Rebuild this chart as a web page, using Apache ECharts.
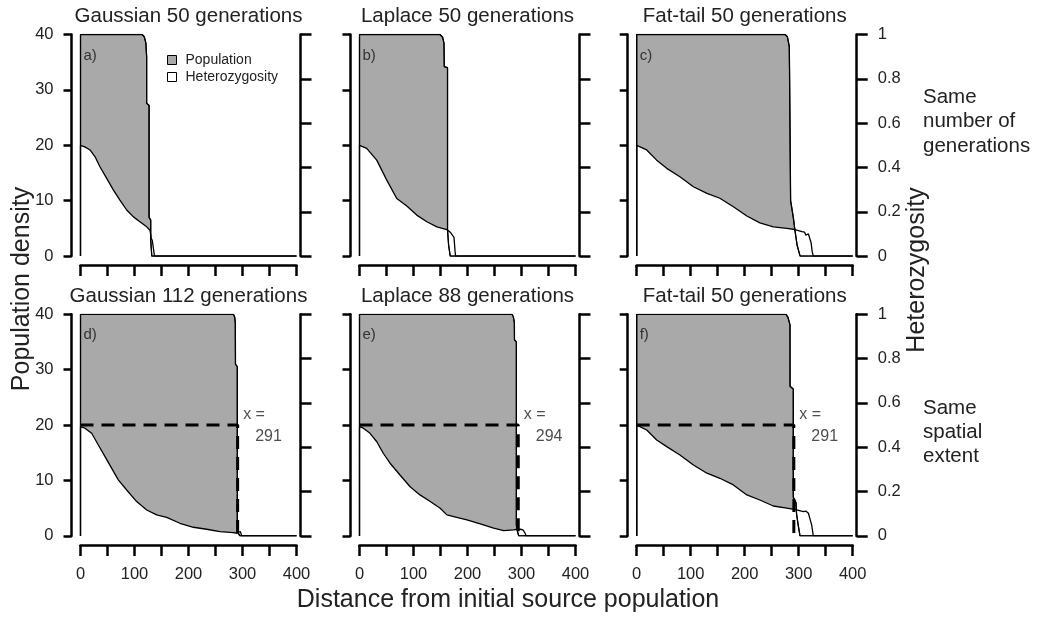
<!DOCTYPE html>
<html>
<head>
<meta charset="utf-8">
<script src="https://cdn.jsdelivr.net/npm/echarts@6/dist/echarts.min.js"></script>
<style>
  html, body { margin: 0; padding: 0; background: #fff; }
  #chart { width: 1037px; height: 618px; }
</style>
</head>
<body>
<div id="chart"></div>
<script>
// panel headings and tags
const panelTitles = [
  'Gaussian 50 generations', 'Laplace 50 generations', 'Fat-tail 50 generations',
  'Gaussian 112 generations', 'Laplace 88 generations', 'Fat-tail 50 generations'
];
const panelTags = ['a)', 'b)', 'c)', 'd)', 'e)', 'f)'];
// spatial extent reached (bottom row only)
const frontX = [null, null, null, 291, 294, 291];
const halfDensity = 20;

const xTicks = { min: 0, max: 400, step: 50 };
const popTicks = { min: 0, max: 40, step: 10 };
const hetTicks = { min: 0, max: 1, step: 0.2 };

// population density profiles [distance, density]
const popA = [[0,0],[0,40],[114,40],[118,39.6],[121,38.5],[122.5,36],[122.5,27.6],[127,27.2],[127,7],[130,6.5],[130,3],[132,0],[400,0]];
const popB = [[0,0],[0,40],[149,40],[154,39.5],[156.5,38.4],[157,34.2],[163,34],[163,4.7],[165,2],[168,0],[400,0]];
const popC = [[0,0],[0,40],[274.6,40],[279,39.6],[282.6,37.8],[283,34],[285,10],[290,7],[293,4.7],[297,2],[302.6,0],[400,0]];
const popD = [[0,0],[0,40],[283,40],[285.5,39.5],[286.7,38.5],[287,31],[290.4,30.5],[290.4,1],[292,0.5],[295.4,0],[400,0]];
const popE = [[0,0],[0,40],[282.5,40],[285,39.5],[286.8,38.5],[287,35.4],[290.5,35],[290.5,2],[292,1],[294.8,0],[400,0]];
const popF = [[0,0],[0,40],[276.5,40],[280,39.5],[283.9,38.1],[284,27],[290,26.5],[290,7],[295,6],[296,4],[299,2],[302.4,0],[400,0]];

// heterozygosity profiles [distance, heterozygosity]
const hetA = [[0,0],[0,0.5],[8,0.493],[17.6,0.479],[27,0.448],[36,0.403],[48.5,0.351],[61,0.298],[73,0.253],[85.5,0.208],[98,0.177],[110,0.155],[122.6,0.132],[128.7,0.117],[130,0.11],[131,0.08],[133,0.07],[136,0.07],[137,0],[400,0]];
const hetB = [[0,0],[0,0.5],[13.3,0.486],[31.9,0.433],[50.5,0.343],[69,0.26],[87.6,0.226],[106,0.185],[124.7,0.155],[143.3,0.132],[161.8,0.12],[168,0.108],[172,0.095],[175,0.085],[177,0.02],[178,0],[400,0]];
const hetC = [[0,0],[0,0.5],[18.5,0.479],[37,0.433],[55.6,0.396],[80,0.358],[105,0.313],[130,0.283],[154,0.261],[179,0.223],[204,0.181],[228,0.15],[253,0.132],[278,0.125],[293,0.12],[306,0.11],[311,0.108],[313,0.095],[318,0.1],[321,0.095],[323,0.06],[325,0.02],[327,0],[400,0]];
const hetD = [[0,0],[0,0.493],[8.3,0.486],[20.7,0.463],[33,0.41],[45.4,0.358],[57.8,0.305],[70,0.253],[85.5,0.207],[104,0.155],[122.6,0.117],[141,0.095],[159.6,0.084],[184,0.057],[209,0.039],[233.7,0.03],[258.3,0.019],[283,0.015],[290,0.012],[292,0.02],[296,0.02],[298.5,0],[400,0]];
const hetE = [[0,0],[0,0.493],[7,0.486],[19.5,0.463],[32,0.425],[44,0.373],[56.6,0.328],[75,0.275],[93.7,0.222],[112,0.185],[131,0.155],[149.4,0.125],[161.8,0.095],[180,0.084],[199,0.072],[223.6,0.054],[248.4,0.035],[267,0.024],[285.5,0.027],[292,0.03],[298,0.03],[302.7,0.027],[306,0.015],[308.7,0],[400,0]];
const hetF = [[0,0],[0,0.5],[18.5,0.478],[37,0.433],[55.6,0.403],[80,0.365],[105,0.32],[130,0.283],[154,0.26],[179,0.23],[204,0.185],[228,0.162],[253,0.135],[278,0.125],[296,0.117],[308.6,0.11],[313,0.112],[318,0.102],[321,0.1],[324,0.05],[327,0],[400,0]];

const popData = [popA, popB, popC, popD, popE, popF];
const hetData = [hetA, hetB, hetC, hetD, hetE, hetF];

// layout
const colLeft = [80.5, 359.5, 636.7];
const rowTop = [34.5, 314.3];
const plotW = 216;
const plotH = 221.6;
const FONT = "'Liberation Sans', Arial, sans-serif";
const INK = '#222';
const FILL = '#a9a9a9';

const chart = echarts.init(document.getElementById('chart'), null, { renderer: 'canvas' });

// R-style detached axes: never snap to the other axis' zero
const axisLine = { show: true, onZero: false, lineStyle: { color: '#000', width: 2.5 } };
function tickStyle(len) {
  return { show: true, length: len, lineStyle: { color: '#000', width: 2.5 } };
}

const grid = [], xAxis = [], yAxis = [], series = [], graphic = [];

for (let i = 0; i < 6; i++) {
  const col = i % 3;
  const row = Math.floor(i / 3);
  const left = colLeft[col];
  const top = rowTop[row];

  grid.push({ left: left, top: top, width: plotW, height: plotH });

  xAxis.push({
    type: 'value', gridIndex: i,
    min: xTicks.min, max: xTicks.max, interval: xTicks.step,
    offset: 9,
    axisLine: axisLine,
    axisTick: tickStyle(11),
    splitLine: { show: false },
    axisLabel: {
      show: row === 1, margin: 21,
      fontSize: 16.5, fontFamily: FONT, color: INK,
      formatter: v => (v % 100 === 0 ? String(v) : '')
    }
  });

  yAxis.push({
    type: 'value', gridIndex: i, position: 'left',
    min: popTicks.min, max: popTicks.max, interval: popTicks.step,
    offset: 9,
    axisLine: axisLine,
    axisTick: tickStyle(8),
    splitLine: { show: false },
    axisLabel: { show: col === 0, margin: 18, fontSize: 16.5, fontFamily: FONT, color: INK }
  });
  yAxis.push({
    type: 'value', gridIndex: i, position: 'right',
    min: hetTicks.min, max: hetTicks.max, interval: hetTicks.step,
    offset: 4,
    axisLine: axisLine,
    axisTick: tickStyle(11),
    splitLine: { show: false },
    axisLabel: { show: col === 2, margin: 21, fontSize: 16.5, fontFamily: FONT, color: INK }
  });

  series.push({
    type: 'line', name: 'Population',
    xAxisIndex: i, yAxisIndex: 2 * i,
    data: popData[i],
    symbol: 'none', silent: true,
    lineStyle: { color: '#000', width: 1.3 },
    itemStyle: { color: FILL },
    areaStyle: { color: FILL, opacity: 1 }
  });
  series.push({
    type: 'line', name: 'Heterozygosity',
    xAxisIndex: i, yAxisIndex: 2 * i + 1,
    data: hetData[i],
    symbol: 'none', silent: true,
    lineStyle: { color: '#000', width: 1.3 },
    itemStyle: { color: '#fff' },
    areaStyle: { color: '#fff', opacity: 1 }
  });
  // population outline again, so the front stays visible inside the white tail
  series.push({
    type: 'line', name: 'popOutline',
    xAxisIndex: i, yAxisIndex: 2 * i,
    data: popData[i],
    symbol: 'none', silent: true,
    lineStyle: { color: '#000', width: 1.1 }
  });

  const f = frontX[i];
  if (f != null) {
    series.push({
      type: 'line', name: 'front',
      xAxisIndex: i, yAxisIndex: 2 * i,
      data: [[0, halfDensity], [f, halfDensity], [f, 0]],
      symbol: 'none', silent: true, z: 5,
      lineStyle: { color: '#000', width: 3, type: [13, 8] }
    });
    series.push({
      type: 'scatter', name: 'frontLabel',
      xAxisIndex: i, yAxisIndex: 2 * i,
      data: [[f, halfDensity]],
      symbolSize: 1, itemStyle: { color: 'rgba(0,0,0,0)' }, silent: true, z: 6,
      label: {
        show: true, position: 'right', distance: 5,
        formatter: '{a|x =}\n{b|' + f + '}',
        rich: {
          a: { fontSize: 16, fontFamily: FONT, color: INK, lineHeight: 22 },
          b: { fontSize: 16, fontFamily: FONT, color: INK, lineHeight: 22, padding: [0, 0, 0, 12] }
        }
      }
    });
  }

  graphic.push({
    type: 'text', x: left + plotW / 2, y: top - 18,
    style: { text: panelTitles[i], fontSize: 20.5, fontFamily: FONT, fill: INK, textAlign: 'center', textVerticalAlign: 'middle' }
  });
  graphic.push({
    type: 'text', x: left + 3, y: top + 21, z: 10,
    style: { text: panelTags[i], fontSize: 15, fontFamily: FONT, fill: '#333', textAlign: 'left', textVerticalAlign: 'middle' }
  });
}

graphic.push(
  { type: 'text', x: 508, y: 600,
    style: { text: 'Distance from initial source population', fontSize: 25, fontFamily: FONT, fill: INK, textAlign: 'center', textVerticalAlign: 'middle' } },
  { type: 'text', x: 22, y: 289, rotation: Math.PI / 2,
    style: { text: 'Population density', fontSize: 25, fontFamily: FONT, fill: INK, textAlign: 'center', textVerticalAlign: 'middle' } },
  { type: 'text', x: 917, y: 270, rotation: Math.PI / 2,
    style: { text: 'Heterozygosity', fontSize: 25, fontFamily: FONT, fill: INK, textAlign: 'center', textVerticalAlign: 'middle' } },
  { type: 'text', x: 923, y: 85,
    style: { text: 'Same\nnumber of\ngenerations', fontSize: 20.5, lineHeight: 24.5, fontFamily: FONT, fill: INK, textAlign: 'left', textVerticalAlign: 'top' } },
  { type: 'text', x: 923, y: 396,
    style: { text: 'Same\nspatial\nextent', fontSize: 20.5, lineHeight: 24, fontFamily: FONT, fill: INK, textAlign: 'left', textVerticalAlign: 'top' } }
);

chart.setOption({
  animation: false,
  backgroundColor: '#fff',
  grid: grid,
  xAxis: xAxis,
  yAxis: yAxis,
  legend: {
    data: [
      { name: 'Population', itemStyle: { color: FILL, borderColor: '#000', borderWidth: 1 } },
      { name: 'Heterozygosity', itemStyle: { color: '#fff', borderColor: '#000', borderWidth: 1 } }
    ],
    orient: 'vertical', left: 162, top: 48,
    icon: 'rect', itemWidth: 9, itemHeight: 9, itemGap: 3,
    selectedMode: false,
    textStyle: { fontSize: 14, fontFamily: FONT, color: INK, padding: [0, 0, 0, 4] }
  },
  graphic: graphic,
  series: series
});
</script>
</body>
</html>
